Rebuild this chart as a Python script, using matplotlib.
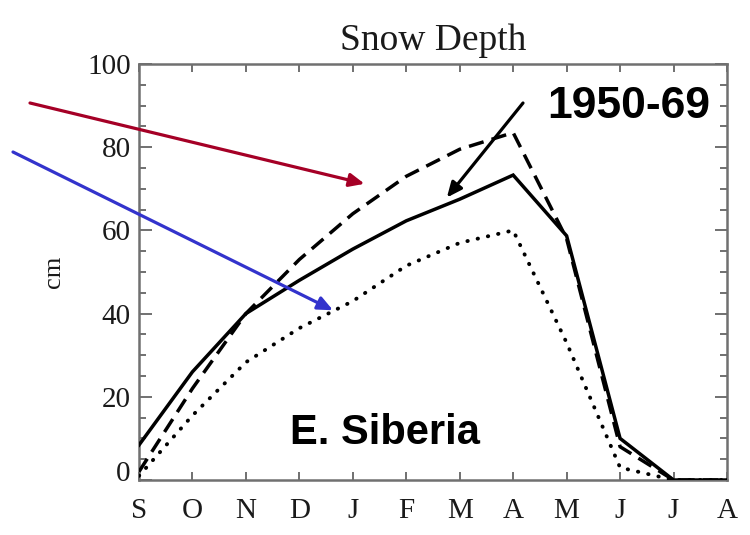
import matplotlib
matplotlib.use("Agg")
import matplotlib.pyplot as plt
from matplotlib.transforms import ScaledTranslation

months = ["S", "O", "N", "D", "J", "F", "M", "A", "M", "J", "J", "A"]
depth_1950_69 = [8.4, 26, 40, 48, 55.5, 62.3, 67.5, 73.3, 58.7, 10, 0, 0]
depth_dashed = [2, 22, 40, 53, 64, 73, 79.5, 83.5, 58, 8, 0, 0]
depth_dotted = [1, 15.5, 28.3, 36.5, 43, 51.5, 57, 60, 33, 3, 0, 0]
yticks = [0, 20, 40, 60, 80, 100]

title = "Snow Depth"
ylabel = "cm"
region_label = "E. Siberia"
period_label = "1950-69"

serif = ["Liberation Serif", "DejaVu Serif"]
sans = ["Liberation Sans", "DejaVu Sans"]
axis_grey = "#707070"

fig = plt.figure(figsize=(7.5, 5.35), dpi=100)
ax = fig.add_axes([0.1853, 0.1028, 0.7840, 0.7776])

x = list(range(len(months)))
ax.plot(x, depth_1950_69, color="black", lw=2.5, solid_joinstyle="miter", zorder=3)
ax.plot(x, depth_dashed, color="black", lw=2.5, dashes=(4.4, 2.4), zorder=3)
ax.plot(x, depth_dotted, color="black", lw=2.8, dashes=(0.1, 2.6),
        dash_capstyle="round", zorder=3)

ax.set_xlim(0, len(months) - 1)
ax.set_ylim(0, 100)
ax.set_xticks(x)
ax.set_xticklabels(months, family=serif, fontsize=21)
ax.set_yticks(yticks)
ax.set_yticklabels([str(v) for v in yticks], family=serif, fontsize=21)
ax.set_yticks(range(0, 101, 5), minor=True)

for sp in ax.spines.values():
    sp.set_color(axis_grey)
    sp.set_linewidth(1.8)

ax.tick_params(axis="both", which="both", direction="in", color=axis_grey,
               width=1.4, top=True, right=True, labelcolor="#1a1a1a")
ax.tick_params(axis="y", which="major", length=9, pad=6)
ax.tick_params(axis="y", which="minor", length=5)
ax.tick_params(axis="x", which="major", length=6, pad=13)

# shift the "0" label slightly up, like the original
lbl0 = ax.get_yticklabels()[0]
lbl0.set_transform(lbl0.get_transform() + ScaledTranslation(0, 0.09, fig.dpi_scale_trans))

ax.set_title(title, family=serif, fontsize=27, pad=10, color="#1a1a1a")
ax.set_ylabel(ylabel, family=serif, fontsize=19, labelpad=16, color="#1a1a1a")

ax.text(2.82, 6.5, region_label, family=sans, fontweight="bold", fontsize=30,
        color="black", ha="left", va="bottom")
fig.text(0.838, 0.80, period_label, family=sans, fontweight="bold", fontsize=32,
         color="black", ha="center", va="center")

# annotation arrows (tails in figure pixels, heads in data coords)
red_head, red_tail = (4.22, 71.2), (30, 432)
blue_head, blue_tail = (3.63, 40.8), (13, 383)
black_head, black_tail = (5.76, 67.9), (523, 432)

for head, tail, col in [(red_head, red_tail, "#A50026"),
                        (blue_head, blue_tail, "#3333CC"),
                        (black_head, black_tail, "black")]:
    ax.annotate("", xy=head, xycoords="data", xytext=tail,
                textcoords="figure pixels", annotation_clip=False,
                arrowprops=dict(arrowstyle="-|>,head_length=0.9,head_width=0.4",
                                color=col, lw=2.3, shrinkA=0, shrinkB=0),
                zorder=5)

fig.savefig("out.png", dpi=100)
